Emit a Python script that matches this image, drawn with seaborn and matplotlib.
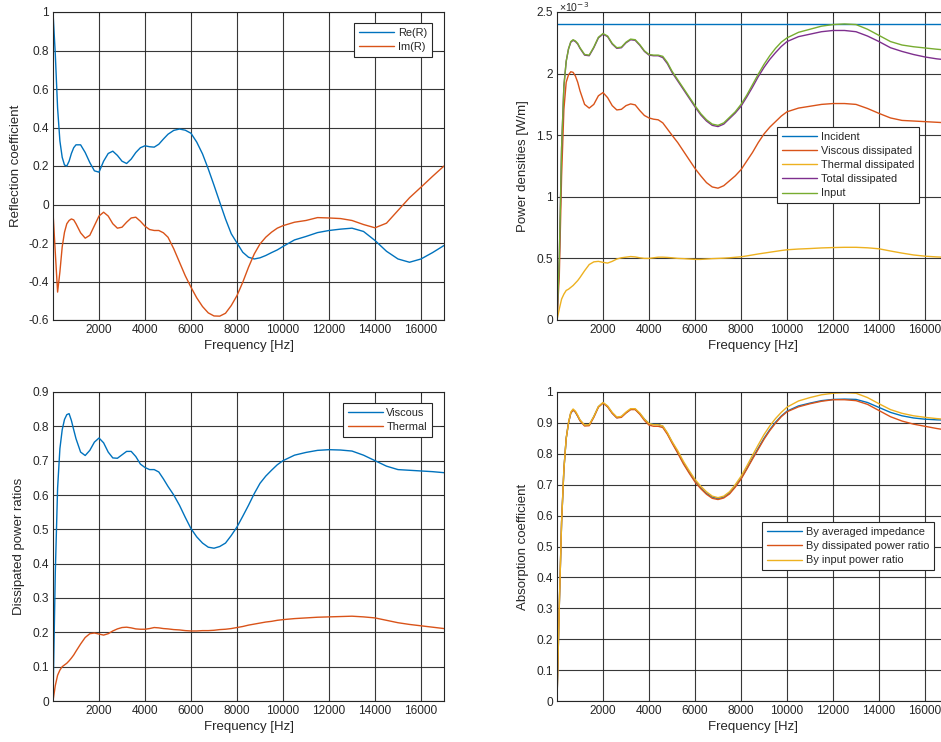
import numpy as np
import matplotlib
matplotlib.use("Agg")
import matplotlib.pyplot as plt
from matplotlib.ticker import FuncFormatter
import seaborn as sns

# Frequency grid shared by all panels [Hz]
freq = [0, 100, 200, 300, 400, 500, 600, 700, 800, 900, 1000, 1200, 1400, 1600, 1800,
        2000, 2200, 2400, 2600, 2800, 3000, 3200, 3400, 3600, 3800, 4000, 4200, 4400,
        4600, 4800, 5000, 5250, 5500, 5750, 6000, 6250, 6500, 6750, 7000, 7250, 7500,
        7750, 8000, 8250, 8500, 8750, 9000, 9250, 9500, 9750, 10000, 10500, 11000,
        11500, 12000, 12500, 13000, 13500, 14000, 14500, 15000, 15500, 16000, 16500, 17000]

# Reflection coefficient
re_r = [1.00, 0.78, 0.50, 0.33, 0.245, 0.205, 0.20, 0.225, 0.265, 0.295, 0.31, 0.31, 0.27,
        0.218, 0.175, 0.168, 0.225, 0.265, 0.277, 0.255, 0.225, 0.213, 0.236, 0.27, 0.295,
        0.305, 0.30, 0.298, 0.313, 0.34, 0.365, 0.385, 0.392, 0.386, 0.37, 0.324, 0.263,
        0.185, 0.10, 0.012, -0.075, -0.152, -0.20, -0.248, -0.274, -0.283, -0.277, -0.265,
        -0.25, -0.236, -0.218, -0.184, -0.166, -0.146, -0.135, -0.128, -0.123, -0.14,
        -0.187, -0.243, -0.283, -0.30, -0.283, -0.25, -0.213]
im_r = [-0.04, -0.25, -0.455, -0.35, -0.22, -0.144, -0.10, -0.083, -0.075, -0.08, -0.10,
        -0.147, -0.175, -0.16, -0.11, -0.06, -0.04, -0.06, -0.10, -0.123, -0.118, -0.092,
        -0.07, -0.066, -0.087, -0.113, -0.13, -0.135, -0.135, -0.147, -0.17, -0.23, -0.30,
        -0.37, -0.43, -0.485, -0.53, -0.563, -0.579, -0.58, -0.565, -0.525, -0.473, -0.404,
        -0.326, -0.257, -0.205, -0.17, -0.144, -0.123, -0.11, -0.092, -0.083, -0.068, -0.07,
        -0.073, -0.083, -0.104, -0.121, -0.097, -0.031, 0.035, 0.09, 0.146, 0.20]

# Power densities [x1e-3 W/m]
p_incident = [2.405] * len(freq)
p_viscous = [0, 0.36, 1.17, 1.71, 1.93, 1.99, 2.015, 2.01, 1.98, 1.93, 1.86, 1.75, 1.72,
             1.75, 1.82, 1.846, 1.805, 1.74, 1.705, 1.71, 1.74, 1.754, 1.746, 1.70, 1.66,
             1.64, 1.63, 1.625, 1.60, 1.55, 1.50, 1.44, 1.37, 1.30, 1.23, 1.17, 1.115, 1.08,
             1.07, 1.09, 1.13, 1.17, 1.22, 1.29, 1.36, 1.44, 1.51, 1.565, 1.61, 1.655, 1.69,
             1.72, 1.735, 1.75, 1.757, 1.757, 1.75, 1.717, 1.677, 1.64, 1.62, 1.615, 1.61,
             1.605, 1.60]
p_thermal = [0, 0.09, 0.17, 0.21, 0.24, 0.25, 0.265, 0.28, 0.30, 0.32, 0.345, 0.40, 0.45,
             0.472, 0.476, 0.468, 0.462, 0.476, 0.495, 0.505, 0.51, 0.515, 0.512, 0.505,
             0.50, 0.50, 0.505, 0.51, 0.51, 0.508, 0.505, 0.50, 0.498, 0.495, 0.492, 0.492,
             0.495, 0.498, 0.50, 0.502, 0.505, 0.509, 0.513, 0.52, 0.528, 0.536, 0.543, 0.55,
             0.557, 0.564, 0.57, 0.576, 0.58, 0.585, 0.588, 0.59, 0.59, 0.586, 0.578, 0.56,
             0.543, 0.528, 0.518, 0.512, 0.508]
p_total = [0, 0.5, 1.4, 1.9, 2.1, 2.2, 2.255, 2.27, 2.26, 2.24, 2.205, 2.15, 2.145, 2.21,
           2.29, 2.32, 2.30, 2.24, 2.205, 2.21, 2.25, 2.275, 2.27, 2.23, 2.18, 2.15, 2.145,
           2.145, 2.13, 2.08, 2.01, 1.94, 1.87, 1.80, 1.73, 1.665, 1.615, 1.58, 1.57, 1.59,
           1.635, 1.68, 1.735, 1.81, 1.89, 1.975, 2.05, 2.115, 2.17, 2.22, 2.26, 2.30, 2.32,
           2.34, 2.35, 2.35, 2.34, 2.305, 2.26, 2.21, 2.18, 2.155, 2.135, 2.12, 2.11]
p_input = [0, 0.5, 1.4, 1.9, 2.1, 2.2, 2.26, 2.275, 2.265, 2.245, 2.21, 2.155, 2.15, 2.215,
           2.295, 2.325, 2.305, 2.245, 2.21, 2.215, 2.255, 2.28, 2.275, 2.235, 2.185, 2.155,
           2.15, 2.15, 2.14, 2.09, 2.02, 1.95, 1.88, 1.81, 1.74, 1.675, 1.625, 1.59, 1.58,
           1.60, 1.645, 1.69, 1.75, 1.825, 1.91, 1.995, 2.075, 2.145, 2.205, 2.255, 2.29,
           2.335, 2.36, 2.385, 2.398, 2.403, 2.398, 2.36, 2.31, 2.26, 2.232, 2.218, 2.208,
           2.198, 2.19]

# Dissipated power ratios
ratio_viscous = [0, 0.375, 0.62, 0.735, 0.79, 0.82, 0.834, 0.837, 0.817, 0.79, 0.764, 0.725,
                 0.715, 0.73, 0.754, 0.766, 0.752, 0.725, 0.708, 0.707, 0.717, 0.727, 0.727,
                 0.712, 0.69, 0.68, 0.674, 0.674, 0.667, 0.647, 0.625, 0.60, 0.57, 0.535,
                 0.502, 0.478, 0.46, 0.448, 0.445, 0.45, 0.46, 0.482, 0.507, 0.538, 0.57,
                 0.604, 0.634, 0.655, 0.672, 0.688, 0.70, 0.716, 0.724, 0.73, 0.732, 0.731,
                 0.728, 0.716, 0.70, 0.684, 0.674, 0.672, 0.67, 0.668, 0.665]
ratio_thermal = [0, 0.045, 0.075, 0.09, 0.10, 0.105, 0.11, 0.117, 0.125, 0.134, 0.145, 0.166,
                 0.185, 0.196, 0.198, 0.195, 0.192, 0.196, 0.204, 0.21, 0.214, 0.215, 0.213,
                 0.21, 0.209, 0.209, 0.211, 0.214, 0.213, 0.211, 0.21, 0.208, 0.207, 0.205,
                 0.204, 0.204, 0.205, 0.205, 0.206, 0.208, 0.209, 0.211, 0.214, 0.217, 0.221,
                 0.224, 0.227, 0.23, 0.232, 0.235, 0.237, 0.24, 0.242, 0.244, 0.245, 0.246,
                 0.247, 0.245, 0.242, 0.235, 0.228, 0.223, 0.219, 0.215, 0.211]

# Absorption coefficient
abs_impedance = [0, 0.31, 0.58, 0.75, 0.85, 0.90, 0.932, 0.942, 0.935, 0.922, 0.908, 0.892,
                 0.893, 0.92, 0.952, 0.965, 0.953, 0.932, 0.917, 0.92, 0.933, 0.944, 0.944,
                 0.93, 0.912, 0.898, 0.895, 0.895, 0.889, 0.866, 0.838, 0.805, 0.77, 0.74,
                 0.712, 0.69, 0.672, 0.66, 0.655, 0.66, 0.673, 0.695, 0.72, 0.752, 0.786,
                 0.818, 0.85, 0.878, 0.902, 0.922, 0.938, 0.955, 0.964, 0.972, 0.976, 0.977,
                 0.976, 0.966, 0.95, 0.934, 0.923, 0.916, 0.912, 0.91, 0.909]
abs_dissipated = [0, 0.31, 0.58, 0.75, 0.85, 0.90, 0.932, 0.942, 0.935, 0.922, 0.907, 0.89,
                  0.891, 0.918, 0.951, 0.964, 0.952, 0.931, 0.916, 0.918, 0.932, 0.943, 0.943,
                  0.928, 0.908, 0.893, 0.889, 0.889, 0.885, 0.863, 0.835, 0.802, 0.767, 0.737,
                  0.709, 0.687, 0.669, 0.656, 0.652, 0.657, 0.67, 0.692, 0.718, 0.75, 0.783,
                  0.815, 0.847, 0.875, 0.899, 0.92, 0.936, 0.952, 0.962, 0.97, 0.975, 0.975,
                  0.972, 0.96, 0.94, 0.92, 0.906, 0.896, 0.889, 0.882, 0.876]
abs_input = [0, 0.31, 0.58, 0.75, 0.85, 0.90, 0.935, 0.945, 0.938, 0.925, 0.91, 0.893, 0.894,
             0.921, 0.953, 0.966, 0.955, 0.934, 0.919, 0.921, 0.935, 0.946, 0.946, 0.932,
             0.912, 0.898, 0.894, 0.894, 0.89, 0.868, 0.84, 0.81, 0.775, 0.745, 0.717, 0.695,
             0.677, 0.663, 0.658, 0.663, 0.677, 0.70, 0.727, 0.76, 0.795, 0.829, 0.862, 0.89,
             0.914, 0.934, 0.951, 0.971, 0.982, 0.991, 0.996, 0.998, 0.996, 0.982, 0.962,
             0.943, 0.931, 0.923, 0.918, 0.914, 0.911]

x_ticks = [2000, 4000, 6000, 8000, 10000, 12000, 14000, 16000]

# MATLAB default line colours
C1, C2, C3, C4, C5 = "#0072BD", "#D95319", "#EDB120", "#7E2F8E", "#77AC30"
AX_COLOR = "#262626"

sns.set_theme(style="white")
plt.rcParams["font.family"] = ["Liberation Sans", "DejaVu Sans"]
plt.rcParams["axes.edgecolor"] = AX_COLOR
plt.rcParams["axes.linewidth"] = 0.8
plt.rcParams["xtick.color"] = AX_COLOR
plt.rcParams["ytick.color"] = AX_COLOR
plt.rcParams["text.color"] = AX_COLOR
plt.rcParams["axes.labelcolor"] = AX_COLOR

fig = plt.figure(figsize=(9.41, 7.42), dpi=100)
W, H = 941, 742


def add_axes(left, top, right, bottom):
    return fig.add_axes([left / W, (H - bottom) / H, (right - left) / W, (bottom - top) / H])


def fmt(v, pos):
    return f"{v:g}".replace("\u2212", "-")


def style_axes(ax, yticks, ylabel, yfmt=fmt):
    ax.set_xlim(0, 17000)
    ax.set_ylim(yticks[0], yticks[-1])
    ax.set_xticks(x_ticks)
    ax.set_yticks(yticks)
    ax.xaxis.set_major_formatter(FuncFormatter(fmt))
    ax.yaxis.set_major_formatter(FuncFormatter(yfmt))
    ax.grid(True, color="#222222", linewidth=0.8, alpha=0.9)
    ax.set_axisbelow(True)
    ax.tick_params(direction="in", length=3, width=0.6, labelsize=8.6, pad=3,
                   top=True, right=True)
    ax.set_xlabel("Frequency [Hz]", fontsize=9.5, labelpad=3)
    ax.set_ylabel(ylabel, fontsize=9.5, labelpad=5)
    for s in ax.spines.values():
        s.set_visible(True)


def add_legend(ax, anchor):
    leg = ax.legend(loc="upper right", bbox_to_anchor=anchor, fontsize=7.9, frameon=True,
                    fancybox=False, framealpha=1, edgecolor=AX_COLOR, borderpad=0.45,
                    labelspacing=0.38, handlelength=3.2, handletextpad=0.3, borderaxespad=0)
    leg.get_frame().set_linewidth(0.8)


lw = 1.0

# Top-left: reflection coefficient
ax1 = add_axes(53, 12, 444, 320)
sns.lineplot(x=freq, y=re_r, ax=ax1, color=C1, linewidth=lw, label="Re(R)")
sns.lineplot(x=freq, y=im_r, ax=ax1, color=C2, linewidth=lw, label="Im(R)")
style_axes(ax1, [-0.6, -0.4, -0.2, 0, 0.2, 0.4, 0.6, 0.8, 1], "Reflection coefficient")
add_legend(ax1, (0.969, 0.964))

# Top-right: power densities
ax2 = add_axes(557, 12, 948, 320)
scale = 1e-3
sns.lineplot(x=freq, y=np.array(p_incident) * scale, ax=ax2, color=C1, linewidth=lw, label="Incident")
sns.lineplot(x=freq, y=np.array(p_viscous) * scale, ax=ax2, color=C2, linewidth=lw, label="Viscous dissipated")
sns.lineplot(x=freq, y=np.array(p_thermal) * scale, ax=ax2, color=C3, linewidth=lw, label="Thermal dissipated")
sns.lineplot(x=freq, y=np.array(p_total) * scale, ax=ax2, color=C4, linewidth=lw, label="Total dissipated")
sns.lineplot(x=freq, y=np.array(p_input) * scale, ax=ax2, color=C5, linewidth=lw, label="Input")
style_axes(ax2, [0, 0.5e-3, 1e-3, 1.5e-3, 2e-3, 2.5e-3], "Power densities [W/m]",
           yfmt=lambda v, pos: f"{v * 1e3:g}")
# exponent marker above the y axis, kept just inside the top edge of the figure
fig.text(559 / W, 1 - 0.5 / H, "\u00d710$^{-3}$", fontsize=7.6, ha="left", va="top")
add_legend(ax2, (0.926, 0.627))

# Bottom-left: dissipated power ratios
ax3 = add_axes(53, 392, 444, 701)
sns.lineplot(x=freq, y=ratio_viscous, ax=ax3, color=C1, linewidth=lw, label="Viscous")
sns.lineplot(x=freq, y=ratio_thermal, ax=ax3, color=C2, linewidth=lw, label="Thermal")
style_axes(ax3, [0, 0.1, 0.2, 0.3, 0.4, 0.5, 0.6, 0.7, 0.8, 0.9], "Dissipated power ratios")
add_legend(ax3, (0.969, 0.964))

# Bottom-right: absorption coefficient
ax4 = add_axes(557, 392, 948, 701)
sns.lineplot(x=freq, y=abs_impedance, ax=ax4, color=C1, linewidth=lw, label="By averaged impedance")
sns.lineplot(x=freq, y=abs_dissipated, ax=ax4, color=C2, linewidth=lw, label="By dissipated power ratio")
sns.lineplot(x=freq, y=abs_input, ax=ax4, color=C3, linewidth=lw, label="By input power ratio")
style_axes(ax4, [0, 0.1, 0.2, 0.3, 0.4, 0.5, 0.6, 0.7, 0.8, 0.9, 1], "Absorption coefficient")
add_legend(ax4, (0.964, 0.579))

fig.savefig("out.png", dpi=100)
